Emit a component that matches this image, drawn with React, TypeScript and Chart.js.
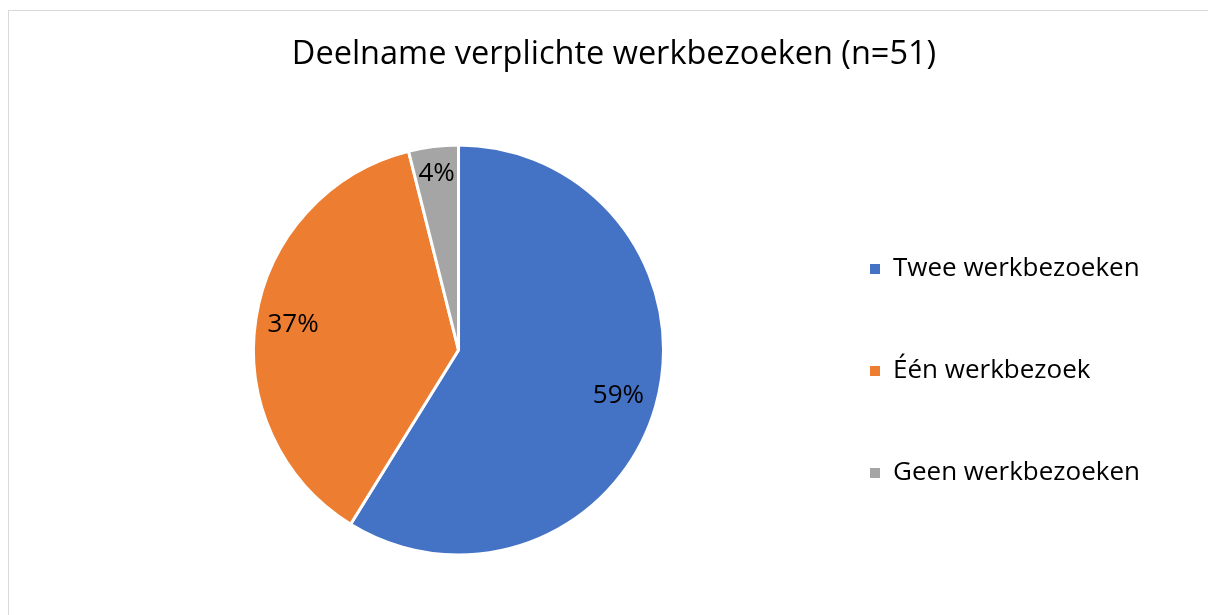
import React, { useEffect, useRef } from "react";
import { Chart, registerables } from "chart.js";

Chart.register(...registerables);

const TITLE = "Deelname verplichte werkbezoeken (n=51)";
const categories = ["Twee werkbezoeken", "Één werkbezoek", "Geen werkbezoeken"];
const counts = [30, 19, 2];
const colors = ["#4472C4", "#ED7D31", "#A5A5A5"];

const FONT = "Open Sans";

const pctLabelPlugin = {
  id: "pctLabels",
  afterDatasetsDraw(chart: any) {
    const ctx = chart.ctx;
    const ds = chart.data.datasets[0];
    const total = ds.data.reduce((s: number, v: number) => s + v, 0);
    const meta = chart.getDatasetMeta(0);
    ctx.save();
    ctx.font = `26px "${FONT}"`;
    ctx.fillStyle = "#000";
    ctx.textAlign = "center";
    ctx.textBaseline = "middle";
    meta.data.forEach((arc: any, i: number) => {
      const p = arc.getProps(["x", "y", "startAngle", "endAngle", "outerRadius"], true);
      const mid = (p.startAngle + p.endAngle) / 2;
      const txt = Math.round((ds.data[i] / total) * 100) + "%";
      const w = ctx.measureText(txt).width;
      const h = 30;
      const ext = (Math.abs(Math.cos(mid)) * w) / 2 + (Math.abs(Math.sin(mid)) * h) / 2;
      const d = p.outerRadius - ext - 10;
      ctx.fillText(txt, p.x + Math.cos(mid) * d, p.y + Math.sin(mid) * d);
    });
    ctx.restore();
  },
};

export default function App() {
  const ref = useRef<HTMLCanvasElement | null>(null);
  useEffect(() => {
    if (!ref.current) return;
    const chart = new Chart(ref.current, {
      type: "pie",
      data: {
        labels: categories,
        datasets: [
          {
            data: counts,
            backgroundColor: colors,
            borderColor: "#ffffff",
            borderWidth: 3,
          },
        ],
      },
      options: {
        animation: false,
        responsive: true,
        maintainAspectRatio: false,
        radius: 205,
        layout: { padding: { left: 69, right: 58, top: 0, bottom: 53 } },
        plugins: {
          tooltip: { enabled: false },
          title: {
            display: true,
            text: TITLE,
            color: "#000",
            font: { family: FONT, size: 32.5, weight: "normal", lineHeight: 1.2 },
            padding: { top: 24.5, bottom: 63.5 },
          },
          legend: {
            display: true,
            position: "right",
            align: "end",
            labels: {
              boxWidth: 10,
              boxHeight: 10,
              padding: 31,
              color: "#000",
              font: { family: FONT, size: 26, lineHeight: 71 / 26 },
              generateLabels: (c: any) => {
                const ds = c.data.datasets[0];
                return c.data.labels.map((l: string, i: number) => ({
                  text: [l],
                  fillStyle: ds.backgroundColor[i],
                  strokeStyle: ds.backgroundColor[i],
                  lineWidth: 0,
                  hidden: false,
                  index: i,
                  fontColor: "#000",
                }));
              },
            },
          },
        },
      } as any,
      plugins: [pctLabelPlugin],
    });
    return () => chart.destroy();
  }, []);

  return (
    <div
      style={{
        position: "fixed",
        left: 8,
        top: 10,
        width: 1200,
        height: 605,
        boxSizing: "border-box",
        borderLeft: "1px solid #d9d9d9",
        borderTop: "1px solid #d9d9d9",
        background: "#fff",
      }}
    >
      <div style={{ position: "relative", width: 1199, height: 604 }}>
        <canvas ref={ref} />
      </div>
    </div>
  );
}
